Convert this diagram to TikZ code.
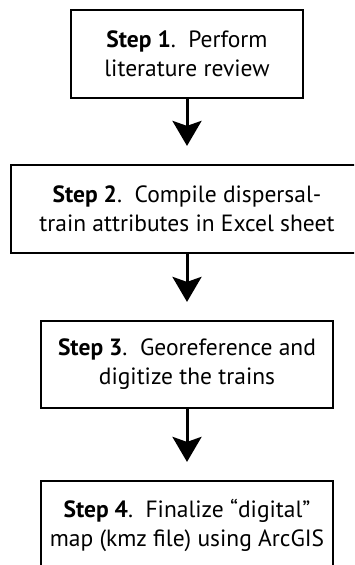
\documentclass[tikz,border=0pt]{standalone}
\usepackage{fontspec}
\setmainfont{PT Sans}
\usetikzlibrary{arrows.meta}
\tikzset{
  stepbox/.style={draw=black, line width=2.2pt, fill=white, rectangle, inner sep=0pt,
    minimum height=88pt, align=center, font=\fontsize{23.5}{29}\selectfont},
  flow/.style={line width=3pt, -{Stealth[length=25pt, width=29pt, inset=5pt]}, shorten >=18pt}
}
\begin{document}
\begin{tikzpicture}
\useasboundingbox (0pt,0pt) rectangle (354pt,-565pt);
\clip (0pt,0pt) rectangle (354pt,-565pt);
\fill[white] (0pt,0pt) rectangle (354pt,-565pt);
\node[stepbox, minimum width=232pt] (s1) at (187pt,-54pt) {\textbf{Step 1}.\ \ Perform\\literature review};
\node[stepbox, minimum width=352pt] (s2) at (187pt,-209pt) {\textbf{Step 2}.\ \ Compile dispersal-\\train attributes in Excel sheet};
\node[stepbox, minimum width=292pt, minimum height=87pt] (s3) at (187pt,-364.5pt) {\textbf{Step 3}.\ \ Georeference and\\digitize the trains};
\node[stepbox, minimum width=292pt] (s4) at (187pt,-525pt) {\textbf{Step 4}.\ \ Finalize “digital”\\map (kmz file) using ArcGIS};
\draw[flow] (s1.south) -- (s2.north);
\draw[flow] (s2.south) -- (s3.north);
\draw[flow] (s3.south) -- (s4.north);
\end{tikzpicture}
\end{document}
